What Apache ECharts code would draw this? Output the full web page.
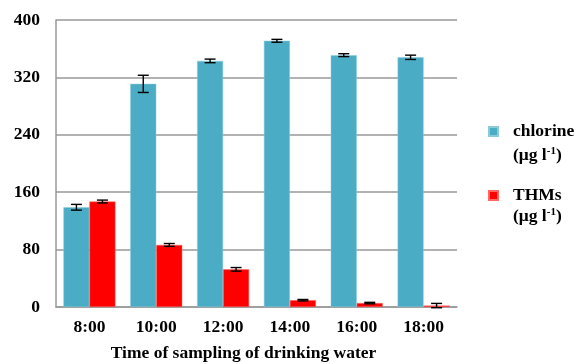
<!DOCTYPE html>
<html><head><meta charset="utf-8">
<script src="https://cdn.jsdelivr.net/npm/echarts@6/dist/echarts.min.js"></script>
<style>html,body{margin:0;padding:0;background:#fff}#c{width:577px;height:364px}</style>
</head><body><div id="c"></div>
<script>
var categories = ['8:00','10:00','12:00','14:00','16:00','18:00'];
var chlorine = [139, 311, 343, 371, 351, 348];
var chlorineErr = [4, 12, 2.5, 2, 2, 3];
var thms = [147, 86.5, 52.5, 9.5, 5.5, 2];
var thmsErr = [2, 2, 2.5, 1, 1, 3];
var yTicks = [0, 80, 160, 240, 320, 400];

var FONT = '"Liberation Serif", "Times New Roman", serif';
var FS = 17.5;
var chart = echarts.init(document.getElementById('c'));

function errSeries(name, vals, errs, offset) {
  return {
    type: 'custom', name: name + ' err', silent: true, z: 5,
    data: vals.map(function(v, i){ return [i, v, errs[i]]; }),
    renderItem: function(params, api){
      var i = api.value(0), v = api.value(1), e = api.value(2);
      var hi = api.coord([i, v + e]);
      var lo = api.coord([i, v - e]);
      var x = hi[0] + offset, w = 5.5;
      var st = {stroke: '#000', lineWidth: 1.4};
      return {type: 'group', children: [
        {type: 'line', shape: {x1: x, y1: hi[1], x2: x, y2: lo[1]}, style: st},
        {type: 'line', shape: {x1: x - w, y1: hi[1], x2: x + w, y2: hi[1]}, style: st},
        {type: 'line', shape: {x1: x - w, y1: lo[1], x2: x + w, y2: lo[1]}, style: st}
      ]};
    }
  };
}

var unitRich = {
  u: {fontFamily: FONT, fontWeight: 'bold', fontSize: FS, fill: '#000'},
  s: {fontFamily: FONT, fontWeight: 'bold', fontSize: 11, fill: '#000', verticalAlign: 'top', padding: [0,0,7,0]}
};

chart.setOption({
  animation: false,
  grid: {left: 56, right: 120, top: 20, bottom: 57, outerBoundsMode: 'none', containLabel: false},
  legend: {
    orient: 'vertical', left: 483, top: 117.5, itemWidth: 9, itemHeight: 9, itemGap: 46,
    icon: 'rect', selectedMode: false,
    data: ['chlorine', 'THMs'],
    textStyle: {fontFamily: FONT, fontWeight: 'bold', fontSize: FS, lineHeight: 18, color: '#000', padding: [0,0,0,10]}
  },
  graphic: [
    {type: 'text', left: 513, top: 146, style: {text: '{u|(μg l}{s|-1}{u|)}', rich: unitRich}},
    {type: 'text', left: 513, top: 207, style: {text: '{u|(μg l}{s|-1}{u|)}', rich: unitRich}}
  ],
  xAxis: {
    type: 'category', data: categories,
    axisTick: {show: false},
    axisLine: {lineStyle: {color: '#999', width: 1.5}},
    axisLabel: {fontFamily: FONT, fontWeight: 'bold', fontSize: FS, color: '#000', margin: 11},
    name: 'Time of sampling of drinking water', nameLocation: 'middle', nameGap: 37,
    nameTextStyle: {fontFamily: FONT, fontWeight: 'bold', fontSize: FS, color: '#000', padding: [0, 26, 0, 0]}
  },
  yAxis: {
    type: 'value', min: 0, max: 400, interval: 80,
    axisLine: {show: true, lineStyle: {color: '#999', width: 1.5}},
    axisTick: {show: false},
    splitLine: {lineStyle: {color: '#999', width: 1.5}},
    axisLabel: {fontFamily: FONT, fontWeight: 'bold', fontSize: FS, color: '#000', margin: 16,
      formatter: function(v){ return yTicks.indexOf(v) >= 0 ? String(v) : ''; }}
  },
  series: [
    {name: 'chlorine', type: 'bar', data: chlorine, barWidth: 26, barGap: 0,
     itemStyle: {color: '#4BACC6', borderColor: '#8CCAD9', borderWidth: 0.5}},
    {name: 'THMs', type: 'bar', data: thms, barWidth: 26, barGap: 0,
     itemStyle: {color: '#FF0000', borderColor: '#FF6666', borderWidth: 0.5}},
    errSeries('chlorine', chlorine, chlorineErr, -13),
    errSeries('THMs', thms, thmsErr, 13)
  ]
});
</script></body></html>
